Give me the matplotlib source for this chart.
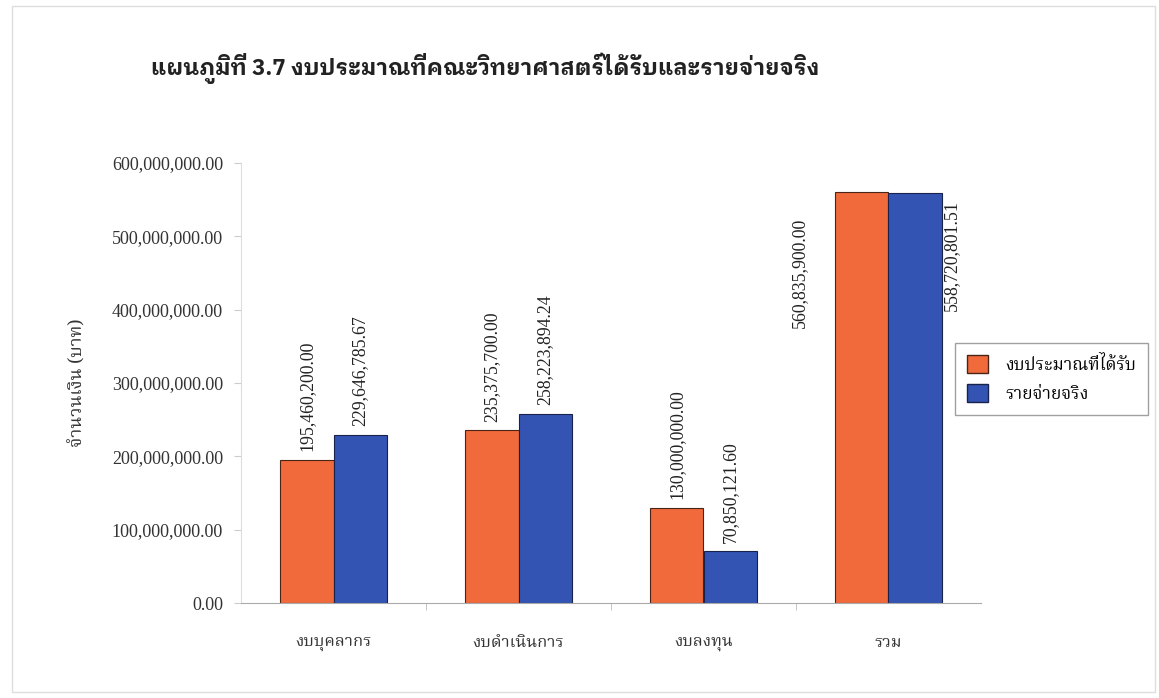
import matplotlib
matplotlib.use("Agg")
import matplotlib.pyplot as plt
from matplotlib.patches import Rectangle, Patch
import numpy as np

categories = ["งบบุคลากร", "งบดำเนินการ", "งบลงทุน", "รวม"]
series_names = ["งบประมาณที่ได้รับ", "รายจ่ายจริง"]
received = [195460200.00, 235375700.00, 130000000.00, 560835900.00]
actual = [229646785.67, 258223894.24, 70850121.60, 558720801.51]
yticks = [0, 100e6, 200e6, 300e6, 400e6, 500e6, 600e6]
title = "แผนภูมิที่ 3.7 งบประมาณที่คณะวิทยาศาสตร์ได้รับและรายจ่ายจริง"
ylabel = "จำนวนเงิน (บาท)"

THAI_T = ["IBM Plex Sans Thai Looped", "Noto Sans Thai Looped", "DejaVu Sans"]
THAI = ["Noto Serif Thai", "IBM Plex Sans Thai Looped", "DejaVu Sans"]
SERIF = "Liberation Serif"

c_or = "#F06A3C"
c_bl = "#3454B4"

fig = plt.figure(figsize=(11.59, 6.98), dpi=100)
fig.patches.append(Rectangle((12/1159, 6/698), 1143/1159, 686/698, transform=fig.transFigure,
                             fill=False, edgecolor="#dddddd", linewidth=1))
ax = fig.add_axes([241/1159, 1-603/698, (981-241)/1159, (603-163)/698])
x = np.arange(len(categories))
w = 0.29
ax.bar(x - w/2, received, w, color=c_or, edgecolor="#4a2416", linewidth=0.8)
ax.bar(x + w/2, actual, w, color=c_bl, edgecolor="#18224a", linewidth=0.8)
ax.set_ylim(0, 600e6)
ax.set_xlim(-0.5, 3.5)
ax.set_yticks(yticks)
ax.set_yticklabels([f"{v:,.2f}" for v in yticks], family=SERIF, fontsize=13, color="#333333")
ax.set_xticks(x)
ax.set_xticklabels(categories, family=THAI, fontsize=12, color="#333333")
ax.set_xticks([0.5, 1.5, 2.5], minor=True)
ax.tick_params(axis="x", which="major", length=0, pad=22)
ax.tick_params(axis="x", which="minor", length=5, color="#bbbbbb")
ax.tick_params(axis="y", length=5, color="#cccccc", pad=8)
for s in ["top", "right"]:
    ax.spines[s].set_visible(False)
ax.spines["left"].set_color("#dddddd")
ax.spines["bottom"].set_color("#aaaaaa")
ax.set_ylabel(ylabel, family=THAI, fontsize=13, fontweight="bold", color="#333333", labelpad=18)

lab = dict(rotation=90, ha="center", family=SERIF, fontsize=12.8, color="#222222")
for i in range(3):
    ax.annotate(f"{received[i]:,.2f}", (x[i] - w/2, received[i]), xytext=(0, 6), textcoords="offset points",
                va="bottom", **lab)
    ax.annotate(f"{actual[i]:,.2f}", (x[i] + w/2, actual[i]), xytext=(0, 6), textcoords="offset points",
                va="bottom", **lab)
ax.text(2.52, 525e6, f"{received[3]:,.2f}", va="top", **lab)
ax.text(3.34, 549e6, f"{actual[3]:,.2f}", va="top", **lab)

fig.text(485/1159, 1-68/698, title, family=THAI_T, fontsize=16, fontweight="bold", ha="center", va="center", color="#222222")

handles = [Patch(facecolor=c_or, edgecolor="#4a2416"), Patch(facecolor=c_bl, edgecolor="#18224a")]
leg = fig.legend(handles, series_names, loc="upper left", bbox_to_anchor=(955/1159, 1-343/698),
                 prop={"family": THAI, "size": 12.5}, frameon=True, fancybox=False, edgecolor="#888888",
                 handlelength=1.2, handleheight=1.2, borderpad=0.7, labelspacing=0.6, borderaxespad=0,
                 handletextpad=1.0)
leg.get_frame().set_linewidth(1)
fig.savefig("out.png")
